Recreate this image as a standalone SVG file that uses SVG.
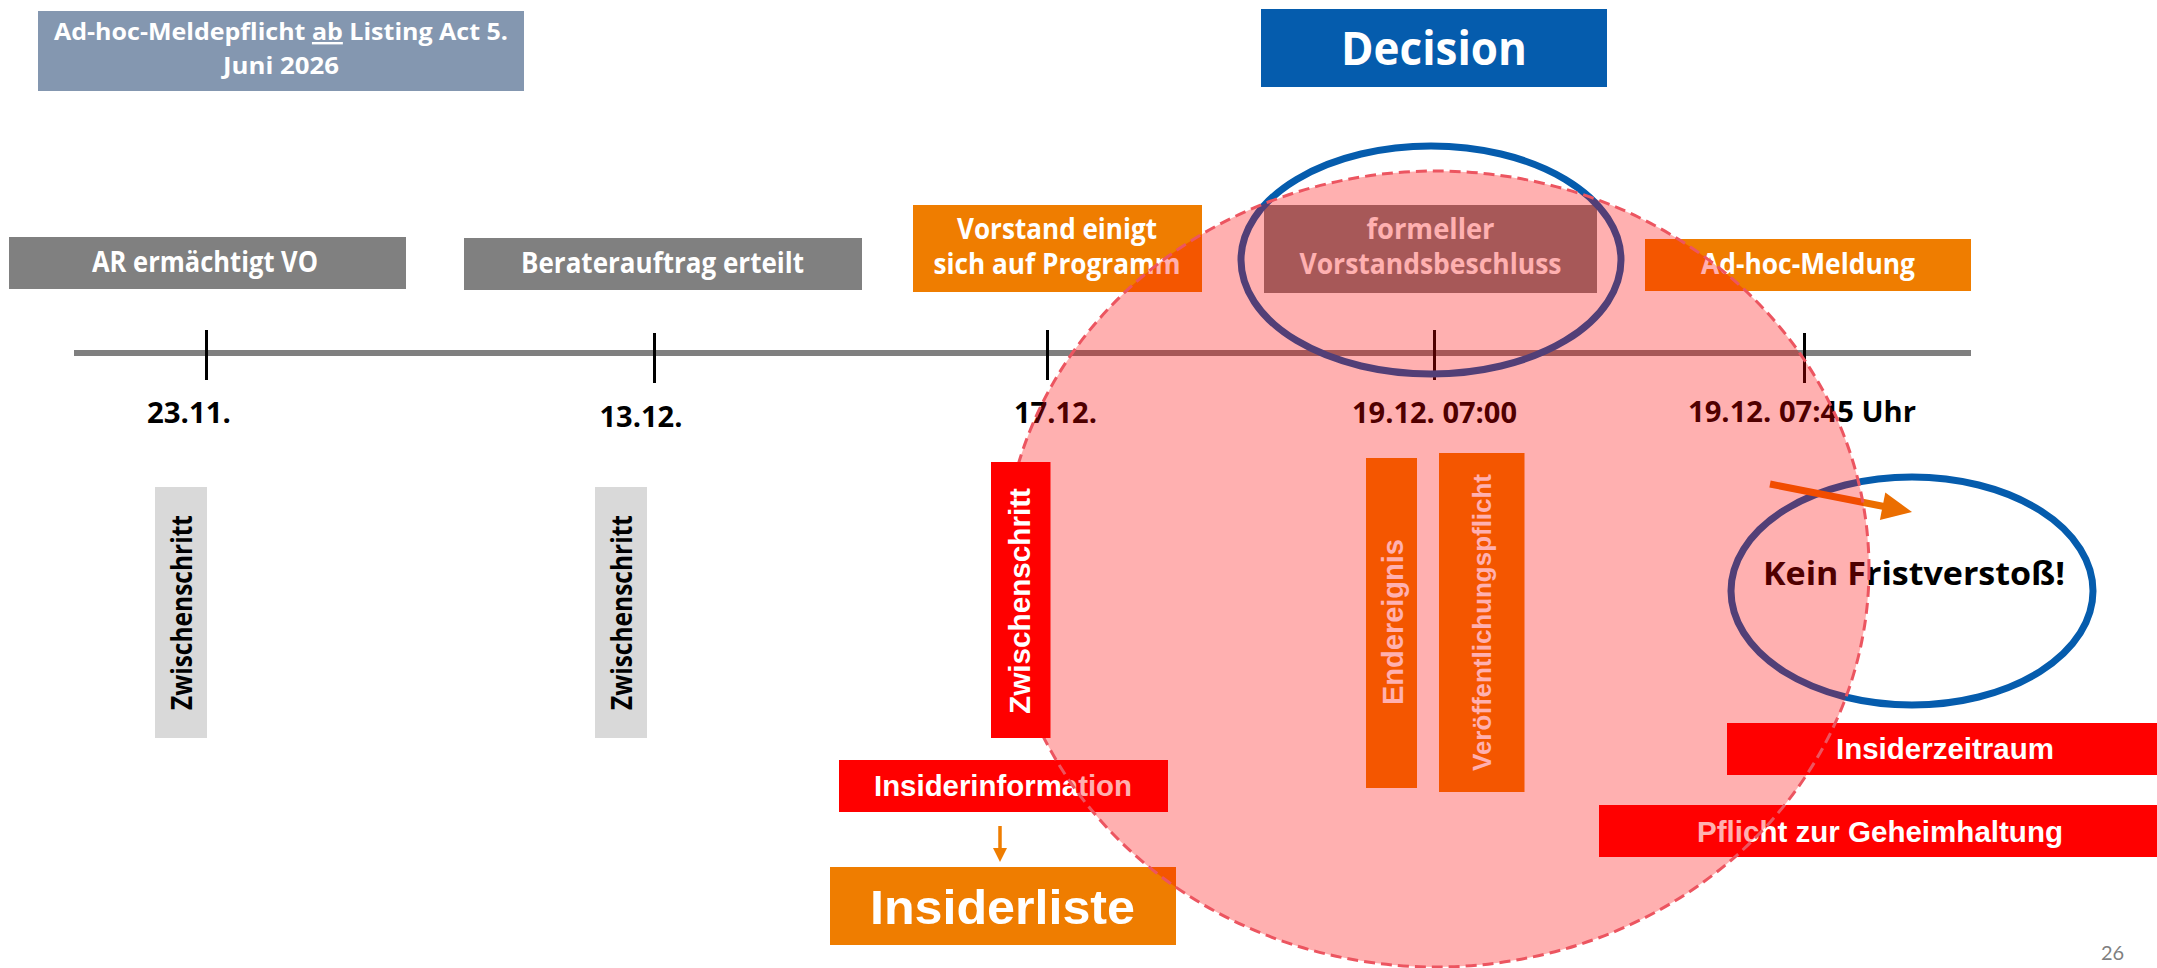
<svg xmlns="http://www.w3.org/2000/svg" width="2157" height="968" viewBox="0 0 2157 968">
<defs>
<style>
.c{font-family:"Open Sans",Lato,"Liberation Sans",sans-serif;font-weight:700}
.a{font-family:"Liberation Sans",Arial,sans-serif;font-weight:700}
.w{fill:#ffffff}
.k{fill:#000000}
.gray{fill:#808080}
.org{fill:#EF7D00}
.red{fill:#FF0000}
.lg{fill:#D9D9D9}
.blue{fill:#055CAD}
.tick{stroke:#000000;stroke-width:3}
.ring{fill:none;stroke:#055CAD;stroke-width:7}
</style>
<marker id="ahSmall" markerUnits="userSpaceOnUse" markerWidth="16" markerHeight="16" refX="0" refY="7" orient="auto" viewBox="0 0 16 14">
<polygon points="0,0 14,7 0,14" fill="#EF7D00"/>
</marker>
</defs>
<rect x="0" y="0" width="2157" height="968" fill="#ffffff"/>

<g id="note-listing-act">
<rect x="38" y="11" width="486" height="80" fill="#8497B0"/>
<text class="c w" x="281" y="40" font-size="24" text-anchor="middle" textLength="454" lengthAdjust="spacingAndGlyphs">Ad-hoc-Meldepflicht <tspan text-decoration="underline">ab</tspan> Listing Act 5.</text>
<text class="c w" x="281" y="74" font-size="24" text-anchor="middle" textLength="116" lengthAdjust="spacingAndGlyphs">Juni 2026</text>
</g>

<g id="decision">
<rect x="1261" y="9" width="346" height="78" class="blue"/>
<text class="c w" x="1434" y="65" font-size="46" text-anchor="middle" textLength="186" lengthAdjust="spacingAndGlyphs">Decision</text>
</g>

<g id="label-ar">
<rect x="9" y="237" width="397" height="52" class="gray"/>
<text class="c w" x="205" y="272" font-size="28" text-anchor="middle" textLength="226" lengthAdjust="spacingAndGlyphs">AR ermächtigt VO</text>
</g>
<g id="label-berater">
<rect x="464" y="238" width="398" height="52" class="gray"/>
<text class="c w" x="662.5" y="273" font-size="28" text-anchor="middle" textLength="283" lengthAdjust="spacingAndGlyphs">Beraterauftrag erteilt</text>
</g>
<g id="label-vorstand">
<rect x="913" y="205" width="289" height="87" class="org"/>
<text class="c w" x="1057" y="239" font-size="28" text-anchor="middle" textLength="200" lengthAdjust="spacingAndGlyphs">Vorstand einigt</text>
<text class="c w" x="1057" y="274" font-size="28" text-anchor="middle" textLength="247" lengthAdjust="spacingAndGlyphs">sich auf Programm</text>
</g>
<g id="label-beschluss">
<rect x="1264" y="205" width="333" height="88" class="gray"/>
<text class="c w" x="1430.5" y="239" font-size="28" text-anchor="middle" textLength="128" lengthAdjust="spacingAndGlyphs">formeller</text>
<text class="c w" x="1430.5" y="274" font-size="28" text-anchor="middle" textLength="262" lengthAdjust="spacingAndGlyphs">Vorstandsbeschluss</text>
</g>
<g id="label-adhoc">
<rect x="1645" y="239" width="326" height="52" class="org"/>
<text class="c w" x="1808" y="274" font-size="28" text-anchor="middle" textLength="214" lengthAdjust="spacingAndGlyphs">Ad-hoc-Meldung</text>
</g>

<g id="timeline">
<line x1="74" y1="353" x2="1971" y2="353" stroke="#7F7F7F" stroke-width="6"/>
<line class="tick" x1="206.5" y1="330" x2="206.5" y2="380"/>
<line class="tick" x1="654.5" y1="333" x2="654.5" y2="383"/>
<line class="tick" x1="1047.5" y1="330" x2="1047.5" y2="380"/>
<line class="tick" x1="1434.5" y1="330" x2="1434.5" y2="380"/>
<line class="tick" x1="1804.5" y1="333" x2="1804.5" y2="383"/>
</g>

<g id="dates">
<text class="c k" x="147" y="423" font-size="29" textLength="84" lengthAdjust="spacingAndGlyphs">23.11.</text>
<text class="c k" x="599.5" y="426.5" font-size="29" textLength="83" lengthAdjust="spacingAndGlyphs">13.12.</text>
<text class="c k" x="1014" y="423" font-size="29" textLength="83" lengthAdjust="spacingAndGlyphs">17.12.</text>
<text class="c k" x="1352" y="423.3" font-size="29" textLength="165" lengthAdjust="spacingAndGlyphs">19.12. 07:00</text>
<text class="c k" x="1688" y="422" font-size="29" textLength="228" lengthAdjust="spacingAndGlyphs">19.12. 07:45 Uhr</text>
</g>

<g id="step-1">
<rect x="155" y="487" width="52" height="251" class="lg"/>
<text class="c k" transform="translate(191.5,612.5) rotate(-90)" font-size="28" text-anchor="middle" textLength="195" lengthAdjust="spacingAndGlyphs">Zwischenschritt</text>
</g>
<g id="step-2">
<rect x="595" y="487" width="52" height="251" class="lg"/>
<text class="c k" transform="translate(631.5,612.5) rotate(-90)" font-size="28" text-anchor="middle" textLength="195" lengthAdjust="spacingAndGlyphs">Zwischenschritt</text>
</g>
<g id="endereignis">
<rect x="1366" y="458" width="51" height="330" class="org"/>
<text class="a w" transform="translate(1403,622) rotate(-90)" font-size="29" text-anchor="middle" textLength="166" lengthAdjust="spacingAndGlyphs">Endereignis</text>
</g>
<g id="veroeffentlichungspflicht">
<rect x="1439" y="453" width="85.5" height="339" class="org"/>
<text class="a w" transform="translate(1491,622.5) rotate(-90)" font-size="26" text-anchor="middle" textLength="297" lengthAdjust="spacingAndGlyphs">Veröffentlichungspflicht</text>
</g>

<g id="insiderinformation">
<rect x="839" y="760" width="329" height="52" class="red"/>
<text class="a w" x="1003" y="796" font-size="29" text-anchor="middle" textLength="258" lengthAdjust="spacingAndGlyphs">Insiderinformation</text>
</g>
<g id="insiderliste">
<rect x="830" y="867" width="346" height="78" class="org"/>
<text class="a w" x="1002.5" y="923.5" font-size="49" text-anchor="middle" textLength="265" lengthAdjust="spacingAndGlyphs">Insiderliste</text>
</g>
<g id="insiderzeitraum">
<rect x="1727" y="723" width="430" height="52" class="red"/>
<text class="a w" x="1945" y="759" font-size="29" text-anchor="middle" textLength="218" lengthAdjust="spacingAndGlyphs">Insiderzeitraum</text>
</g>
<g id="geheimhaltung">
<rect x="1599" y="805" width="558" height="52" class="red"/>
<text class="a w" x="1880" y="842" font-size="29" text-anchor="middle" textLength="366" lengthAdjust="spacingAndGlyphs">Pflicht zur Geheimhaltung</text>
</g>

<g id="kein-fristverstoss">
<ellipse class="ring" cx="1912" cy="591" rx="181" ry="114"/>
<text class="c k" x="1914" y="585" font-size="33" text-anchor="middle" textLength="302" lengthAdjust="spacingAndGlyphs">Kein Fristverstoß!</text>
</g>

<g id="highlight-beschluss">
<ellipse class="ring" cx="1431" cy="260" rx="190" ry="114"/>
</g>

<g id="connectors">
<line x1="1000" y1="826" x2="1000" y2="848" stroke="#EF7D00" stroke-width="3.5" marker-end="url(#ahSmall)"/>
<line x1="1770" y1="484" x2="1884" y2="506.5" stroke="#EB6E00" stroke-width="7"/>
<polygon points="1885.3,492.5 1912,512 1879.9,519.9" fill="#EB6E00"/>
</g>

<g id="insider-zone">
<ellipse cx="1436" cy="569" rx="433" ry="398" fill="#FF0000" fill-opacity="0.31" stroke="#EC5560" stroke-width="3" stroke-dasharray="11 6"/>
</g>

<g id="step-3">
<rect x="991" y="462" width="59.5" height="276" class="red"/>
<text class="a w" transform="translate(1030,601) rotate(-90)" font-size="29.5" text-anchor="middle" textLength="226" lengthAdjust="spacingAndGlyphs">Zwischenschritt</text>
</g>

<g id="page-number">
<text x="2101" y="960" font-family="Lato,'Liberation Sans',sans-serif" font-size="20" fill="#7F7F7F">26</text>
</g>
</svg>
